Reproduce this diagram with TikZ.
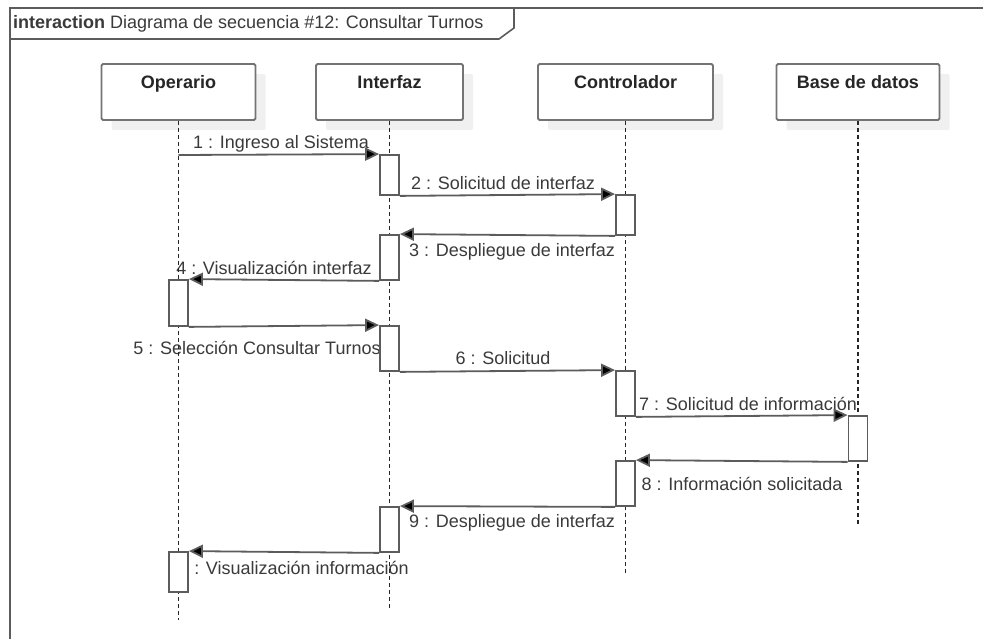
\documentclass[tikz,border=0pt]{standalone}
\usepackage{fontspec}
\setmainfont{Liberation Sans}
\usetikzlibrary{arrows.meta,shadows}
\definecolor{umlline}{HTML}{5C5C5C}
\definecolor{umltext}{HTML}{3A3A3A}
\definecolor{umlshadow}{HTML}{F0F0F0}
\tikzset{
  lifebox/.style={draw=umlline!85, line width=1.8pt, fill=white, rounded corners=1.5pt,
    minimum height=56pt, inner sep=0pt,
    drop shadow={shadow xshift=10pt, shadow yshift=-10pt, fill=umlshadow, opacity=1}},
  boxtitle/.style={anchor=north, yshift=-12pt, inner sep=0pt, text=black!85,
    font=\bfseries\fontsize{18}{21}\selectfont},
  act/.style={draw=umlline, line width=1.8pt, fill=white, minimum width=19pt, inner sep=0pt},
  lifeline/.style={draw=black!85, line width=1.1pt, dash pattern=on 4pt off 3pt},
  msg/.style={draw=umlline, line width=1.8pt, -{Triangle[length=14pt,width=13pt,fill=black]}},
  msgtext/.style={text=umltext, font=\fontsize{18}{21}\selectfont, inner sep=0pt},
  frame/.style={draw=umlline, line width=1.6pt}
}
\begin{document}
\begin{tikzpicture}[x=1pt, y=-1pt]
  \useasboundingbox (0,0) rectangle (983,639);
  \draw[frame] (10,639) -- (10,8) -- (983,8);
  \draw[frame] (10,39) -- (499,39) -- (514,28) -- (514,8);
  \node[msgtext, anchor=west] (title) at (13,24)
    {\textbf{interaction} Diagrama de secuencia \#12: Consultar Turnos};

  \node[lifebox, minimum width=154pt, label={[boxtitle]north:Operario}] (op) at (178.5,92) {};
  \node[lifebox, minimum width=147pt, label={[boxtitle]north:Interfaz}] (if) at (389.5,92) {};
  \node[lifebox, minimum width=175pt, label={[boxtitle]north:Controlador}] (co) at (625.5,92) {};
  \node[lifebox, minimum width=163pt, label={[boxtitle]north:Base de datos}] (bd) at (858,92) {};

  \node[msgtext] (l1) at (281,144) {1 : Ingreso al Sistema};
  \node[msgtext] (l2) at (503,183) {2 : Solicitud de interfaz};
  \node[msgtext] (l3) at (512,252) {3 : Despliegue de interfaz};
  \node[msgtext] (l4) at (274,268) {4 : Visualización interfaz};
  \node[msgtext] (l5) at (257,348) {5 : Selección Consultar Turnos};
  \node[msgtext] (l6) at (503,358) {6 : Solicitud};
  \node[msgtext] (l7) at (748,404) {7 : Solicitud de información};
  \node[msgtext] (l8) at (742,484) {8 : Información solicitada};
  \node[msgtext] (l9) at (512,523) {9 : Despliegue de interfaz};
  \node[msgtext] (l10) at (289,568) {10 : Visualización información};

  \coordinate (opE) at (178.5,620);
  \coordinate (ifE) at (389.5,610);
  \coordinate (coE) at (625.5,575);
  \coordinate (bdE) at (858,525);
  \draw[lifeline] (op.south) -- (opE);
  \draw[lifeline] (if.south) -- (ifE);
  \draw[lifeline] (co.south) -- (coE);
  \draw[lifeline] (bd.south) -- (bdE);

  \node[act, minimum height=40pt] (a1) at (389.5,175) {};
  \node[act, minimum height=40pt] (c1) at (625.5,215) {};
  \node[act, minimum height=45pt] (a2) at (389.5,257.5) {};
  \node[act, minimum height=46pt] (o1) at (178.5,303) {};
  \node[act, minimum height=45pt] (a3) at (389.5,348.5) {};
  \node[act, minimum height=45pt] (c2) at (625.5,393.5) {};
  \node[act, minimum height=45pt] (d1) at (858,438.5) {};
  \node[act, minimum height=45pt] (c3) at (625.5,483.5) {};
  \node[act, minimum height=45pt] (a4) at (389.5,529.5) {};
  \node[act, minimum height=40pt] (o2) at (178.5,572) {};

  \coordinate (m1) at (178.5,155);
  \begin{scope}[msg]
    \draw (m1) -- (a1.north west);
    \draw (a1.south east) -- (c1.north west);
    \draw (c1.south west) -- (a2.north east);
    \draw (a2.south west) -- (o1.north east);
    \draw (o1.south east) -- (a3.north west);
    \draw (a3.south east) -- (c2.north west);
    \draw (c2.south east) -- (d1.north west);
    \draw (d1.south west) -- (c3.north east);
    \draw (c3.south west) -- (a4.north east);
    \draw (a4.south west) -- (o2.north east);
  \end{scope}
\end{tikzpicture}
\end{document}
